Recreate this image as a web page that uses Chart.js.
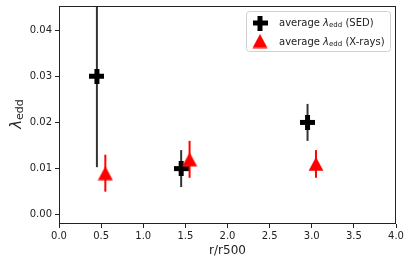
<!DOCTYPE html>
<html lang="en">
<head>
    <meta charset="UTF-8">
    <title>lambda edd vs r/r500</title>
    <script src="https://cdn.jsdelivr.net/npm/chart.js"></script>
    <style>
        html, body {
            margin: 0;
            padding: 0;
            background: #fff;
        }
        #wrap {
            width: 409px;
            height: 265px;
        }
    </style>
</head>
<body>
    <div id="wrap">
        <canvas id="chart" width="409" height="265"></canvas>
    </div>
    <script>
        // values
        var xSED = [0.45, 1.45, 2.95];
        var ySED = [0.030, 0.010, 0.020];
        var errSED = [0.0197, 0.004, 0.004];

        var xXray = [0.55, 1.55, 3.05];
        var yXray = [0.009, 0.012, 0.011];
        var errXray = [0.004, 0.004, 0.003];

        var xTicks = [0.0, 0.5, 1.0, 1.5, 2.0, 2.5, 3.0, 3.5, 4.0];
        var yTicks = [0.00, 0.01, 0.02, 0.03, 0.04];

        var FONT = 'DejaVu Sans';
        var TXT = '#222';

        // filled plus marker
        var plus = document.createElement('canvas');
        plus.width = 15; plus.height = 15;
        var pc = plus.getContext('2d');
        pc.fillStyle = '#000';
        pc.fillRect(0, 5, 15, 5);
        pc.fillRect(5, 0, 5, 15);

        // triangle marker (centered on its box like matplotlib '^')
        var tri = document.createElement('canvas');
        tri.width = 16; tri.height = 15;
        var tc = tri.getContext('2d');
        tc.fillStyle = '#ff0000';
        tc.beginPath();
        tc.moveTo(8, 0.5);
        tc.lineTo(15.5, 14.5);
        tc.lineTo(0.5, 14.5);
        tc.closePath();
        tc.fill();

        function pts(xs, ys) {
            return xs.map(function (x, i) { return {x: x, y: ys[i]}; });
        }

        var errors = {sed: errSED, xray: errXray};

        var errorBars = {
            id: 'errorBars',
            beforeDatasetDraw: function (chart, args) {
                var ds = chart.data.datasets[args.index];
                var err = errors[ds.key];
                var xs = chart.scales.x, ys = chart.scales.y, a = chart.chartArea;
                var ctx = chart.ctx;
                ctx.save();
                ctx.beginPath();
                ctx.rect(a.left, a.top, a.right - a.left, a.bottom - a.top);
                ctx.clip();
                ctx.strokeStyle = ds.barColor;
                ctx.lineWidth = 2;
                ds.data.forEach(function (p, i) {
                    var px = xs.getPixelForValue(p.x);
                    ctx.beginPath();
                    ctx.moveTo(px, ys.getPixelForValue(p.y - err[i]));
                    ctx.lineTo(px, ys.getPixelForValue(p.y + err[i]));
                    ctx.stroke();
                });
                ctx.restore();
            }
        };

        // text with a math-like italic symbol and a small subscript
        function labelWithSub(ctx, x, y, pre, sym, sub, post, size) {
            ctx.font = size + 'px "' + FONT + '"';
            ctx.fillText(pre, x, y);
            x += ctx.measureText(pre).width;
            ctx.font = 'italic ' + size + 'px "' + FONT + '"';
            ctx.fillText(sym, x, y);
            x += ctx.measureText(sym).width;
            ctx.font = Math.round(size * 0.7) + 'px "' + FONT + '"';
            ctx.fillText(sub, x, y + size * 0.22);
            x += ctx.measureText(sub).width;
            ctx.font = size + 'px "' + FONT + '"';
            ctx.fillText(post, x, y);
        }

        var decor = {
            id: 'decor',
            afterDraw: function (chart) {
                var ctx = chart.ctx, a = chart.chartArea;
                ctx.save();
                // frame
                ctx.strokeStyle = TXT;
                ctx.lineWidth = 1;
                ctx.strokeRect(Math.round(a.left) + 0.5, Math.round(a.top) + 0.5,
                    Math.round(a.right - a.left) - 1, Math.round(a.bottom - a.top) - 1);

                // y axis title
                ctx.fillStyle = TXT;
                ctx.textBaseline = 'middle';
                ctx.translate(17, 115);
                ctx.rotate(-Math.PI / 2);
                ctx.font = 'italic 15px "' + FONT + '"';
                var w1 = ctx.measureText('\u03bb').width;
                ctx.font = '10px "' + FONT + '"';
                var w2 = ctx.measureText('edd').width;
                labelWithSub(ctx, -(w1 + w2) / 2, 0, '', '\u03bb', 'edd', '', 15);
                ctx.restore();

                // legend
                ctx.save();
                var lx = 246.5, ly = 11.5, lw = 144, lh = 40, r = 3;
                ctx.beginPath();
                ctx.moveTo(lx + r, ly);
                ctx.arcTo(lx + lw, ly, lx + lw, ly + lh, r);
                ctx.arcTo(lx + lw, ly + lh, lx, ly + lh, r);
                ctx.arcTo(lx, ly + lh, lx, ly, r);
                ctx.arcTo(lx, ly, lx + lw, ly, r);
                ctx.closePath();
                ctx.fillStyle = 'rgba(255,255,255,0.8)';
                ctx.fill();
                ctx.strokeStyle = '#d0d0d0';
                ctx.stroke();
                ctx.drawImage(plus, 260 - 7.5, 23 - 7.5);
                ctx.drawImage(tri, 260 - 8, 41 - 7.5);
                ctx.fillStyle = TXT;
                ctx.textBaseline = 'middle';
                labelWithSub(ctx, 279, 23, 'average ', '\u03bb', 'edd', ' (SED)', 10);
                labelWithSub(ctx, 279, 42, 'average ', '\u03bb', 'edd', ' (X-rays)', 10);
                ctx.restore();
            }
        };

        var ctx = document.getElementById('chart').getContext('2d');
        var chart = new Chart(ctx, {
            type: 'scatter',
            data: {
                datasets: [{
                    key: 'sed',
                    label: 'average λedd (SED)',
                    data: pts(xSED, ySED),
                    pointStyle: plus,
                    barColor: '#333333',
                    order: 2
                }, {
                    key: 'xray',
                    label: 'average λedd (X-rays)',
                    data: pts(xXray, yXray),
                    pointStyle: tri,
                    barColor: '#ff0000',
                    order: 1
                }]
            },
            options: {
                responsive: false,
                animation: false,
                events: [],
                layout: {padding: {top: 6, right: 13, left: 0, bottom: 0}},
                plugins: {
                    legend: {display: false},
                    tooltip: {enabled: false}
                },
                scales: {
                    x: {
                        type: 'linear',
                        min: 0,
                        max: 4,
                        afterBuildTicks: function (s) {
                            s.ticks = xTicks.map(function (v) { return {value: v}; });
                        },
                        afterFit: function (s) {
                            s.height = 41;
                            s.paddingLeft = 0;
                            s.paddingRight = 0;
                        },
                        ticks: {
                            callback: function (v) { return v.toFixed(1); },
                            color: TXT,
                            font: {family: FONT, size: 10},
                            padding: 2,
                            maxRotation: 0
                        },
                        grid: {display: true, drawOnChartArea: false, tickLength: 4, color: TXT},
                        border: {display: false},
                        title: {
                            display: true,
                            text: 'r/r500',
                            color: TXT,
                            font: {family: FONT, size: 12},
                            padding: {top: 0, bottom: 7}
                        }
                    },
                    y: {
                        type: 'linear',
                        min: -0.002,
                        max: 0.0452,
                        afterBuildTicks: function (s) {
                            s.ticks = yTicks.map(function (v) { return {value: v}; });
                        },
                        afterFit: function (s) {
                            s.width = 59;
                            s.paddingTop = 0;
                            s.paddingBottom = 0;
                        },
                        ticks: {
                            callback: function (v) { return v.toFixed(2); },
                            color: TXT,
                            font: {family: FONT, size: 10},
                            padding: 3
                        },
                        grid: {display: true, drawOnChartArea: false, tickLength: 4, color: TXT},
                        border: {display: false}
                    }
                }
            },
            plugins: [errorBars, decor]
        });
    </script>
</body>
</html>
